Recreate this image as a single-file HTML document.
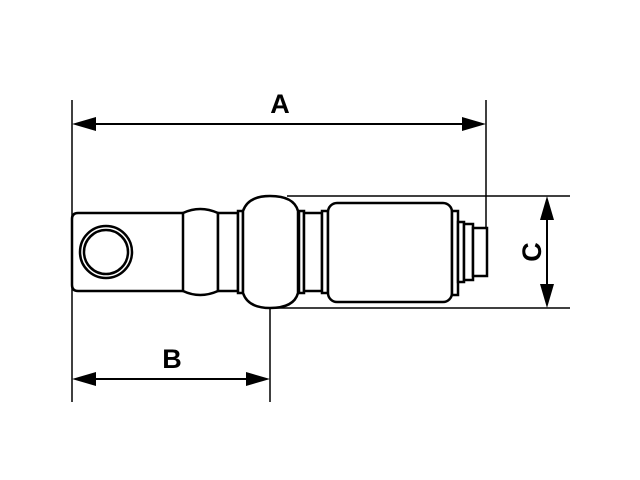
<!DOCTYPE html>
<html><head><style>body{margin:0;background:#fff}svg{display:block}</style></head><body>
<svg width="640" height="480" viewBox="0 0 640 480" xmlns="http://www.w3.org/2000/svg">
<g stroke="#000" fill="none" stroke-width="1.5">
<line x1="72" y1="100" x2="72" y2="402"/>
<line x1="486" y1="100" x2="486" y2="228"/>
<line x1="270" y1="308" x2="270" y2="402"/>
<line x1="84" y1="124" x2="474" y2="124" stroke-width="2"/>
<line x1="84" y1="379" x2="258" y2="379" stroke-width="2"/>
<line x1="287" y1="196" x2="570" y2="196"/>
<line x1="270" y1="308" x2="570" y2="308"/>
<line x1="547" y1="208" x2="547" y2="296" stroke-width="2"/>
</g>
<g fill="#000">
<polygon points="72,124 96,117 96,131"/>
<polygon points="486,124 462,117 462,131"/>
<polygon points="72,379 96,372 96,386"/>
<polygon points="270,379 246,372 246,386"/>
<polygon points="547,196 540,220 554,220"/>
<polygon points="547,308 540,284 554,284"/>
</g>
<g stroke="#000" fill="#fff" stroke-width="2.5">
<path d="M183,213 L78,213 Q72,213 72,219 L72,285 Q72,291 78,291 L183,291"/>
<circle cx="106" cy="252" r="26"/>
<circle cx="106" cy="252" r="22"/>
<path d="M183,213 Q200,205 218,213 L218,291 Q200,299 183,291 Z"/>
<rect x="218" y="213" width="20" height="78"/>
<rect x="238" y="211" width="5" height="82"/>
<path d="M243,211 Q248,196 270,196 Q294,196 298,211 L298,293 Q294,308 270,308 Q248,308 243,293 Z"/>
<rect x="299" y="211" width="5" height="82"/>
<rect x="304" y="213" width="18" height="78"/>
<rect x="322" y="211" width="6" height="82"/>
<rect x="328" y="203" width="124" height="99" rx="9"/>
<rect x="452" y="211" width="6" height="84"/>
<rect x="458" y="222" width="6" height="60"/>
<rect x="464" y="224" width="9" height="56"/>
<rect x="473" y="228" width="14" height="48"/>
</g>
<g font-family="Liberation Sans, sans-serif" font-weight="bold" font-size="27" text-anchor="middle">
<text x="280" y="113">A</text>
<text x="172" y="368">B</text>
<text transform="translate(531,252) rotate(-90)" y="10">C</text>
</g>
</svg>
</body></html>
